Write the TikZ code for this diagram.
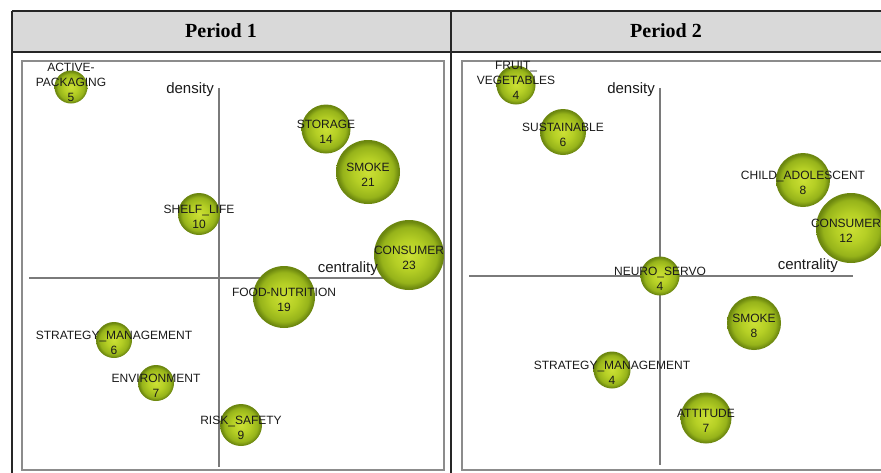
\documentclass[tikz,border=0pt]{standalone}
\usepackage{fontspec}
\setmainfont{Liberation Serif}
\newfontfamily\arialfont{Liberation Sans}
\definecolor{bubin}{HTML}{CCE035}
\definecolor{bubmid}{HTML}{B5CF25}
\definecolor{bubout}{HTML}{96B31A}
\definecolor{bubedge}{HTML}{6C870F}
\definecolor{axisgray}{HTML}{7A7A7A}
\definecolor{txtgray}{HTML}{1A1A1A}
\pgfdeclareradialshading{bubble}{\pgfpoint{0bp}{0bp}}{%
  color(0bp)=(bubin); color(11bp)=(bubmid); color(20bp)=(bubout);
  color(24bp)=(bubedge); color(25bp)=(bubedge); color(50bp)=(bubedge)}

\begin{document}
\begin{tikzpicture}[x=1pt,y=-1pt,
  frame/.style={draw=black!85,line width=1.8pt},
  panel/.style={draw=black!45,line width=1.6pt},
  axis/.style={draw=axisgray,line width=1.3pt},
  bubble/.style={circle,shading=bubble,inner sep=0pt,outer sep=0pt,minimum size=#1},
  topic/.style={anchor=south,yshift=-15pt,align=center,inner sep=0pt,text=txtgray,
    font=\arialfont\fontsize{12}{15}\selectfont},
  axlabel/.style={anchor=base east,inner sep=0pt,text=txtgray,
    font=\arialfont\fontsize{15}{15}\selectfont},
  header/.style={anchor=base,inner sep=0pt,font=\bfseries\fontsize{20}{20}\selectfont}]
  \useasboundingbox (0,0) rectangle (881,472);
  \clip (0,0) rectangle (881,472);

  % table
  \fill[gray!30] (12,11) rectangle (900,52);
  \draw[frame] (12,11) -- (900,11);
  \draw[frame] (12,52) -- (900,52);
  \draw[frame] (12,11) -- (12,480);
  \draw[frame] (451,11) -- (451,480);
  \node[header] (head1) at (221,37) {Period 1};
  \node[header] (head2) at (666,37) {Period 2};
  \draw[panel] (22,61) rectangle (444,470);
  \draw[panel] (462,61) rectangle (900,470);

  % period 1
  \draw[axis] (219,88) -- (219,467);
  \draw[axis] (29,278) -- (386,278);
  \node[bubble=33pt] (p1pack) at (71,87) {};
  \node[bubble=49pt] (p1store) at (326,129) {};
  \node[bubble=64pt] (p1smoke) at (368,172) {};
  \node[bubble=42pt] (p1shelf) at (199,214) {};
  \node[bubble=70pt] (p1cons) at (409,255) {};
  \node[bubble=62pt] (p1food) at (284,297) {};
  \node[bubble=36pt] (p1strat) at (114,340) {};
  \node[bubble=36pt] (p1env) at (156,383) {};
  \node[bubble=42pt] (p1risk) at (241,425) {};
  \node[topic] (p1packL) at (p1pack) {ACTIVE-\\PACKAGING\\5};
  \node[topic] (p1storeL) at (p1store) {STORAGE\\14};
  \node[topic] (p1smokeL) at (p1smoke) {SMOKE\\21};
  \node[topic] (p1shelfL) at (p1shelf) {SHELF\_LIFE\\10};
  \node[topic] (p1consL) at (p1cons) {CONSUMER\\23};
  \node[topic] (p1foodL) at (p1food) {FOOD-NUTRITION\\19};
  \node[topic] (p1stratL) at (p1strat) {STRATEGY\_MANAGEMENT\\6};
  \node[topic] (p1envL) at (p1env) {ENVIRONMENT\\7};
  \node[topic] (p1riskL) at (p1risk) {RISK\_SAFETY\\9};
  \node[axlabel] (p1dens) at (214,93) {density};
  \node[axlabel] (p1cent) at (378,272) {centrality};

  % period 2
  \draw[axis] (660,88) -- (660,465);
  \draw[axis] (469,276) -- (853,276);
  \node[bubble=39pt] (p2fruit) at (516,85) {};
  \node[bubble=46pt] (p2sust) at (563,132) {};
  \node[bubble=54pt] (p2child) at (803,180) {};
  \node[bubble=70pt] (p2cons) at (851,228) {};
  \node[bubble=39pt] (p2neuro) at (660,276) {};
  \node[bubble=54pt] (p2smoke) at (754,323) {};
  \node[bubble=37pt] (p2strat) at (612,370) {};
  \node[bubble=51pt] (p2att) at (706,418) {};
  \node[topic] (p2fruitL) at (p2fruit) {FRUIT\_\\VEGETABLES\\4};
  \node[topic] (p2sustL) at (p2sust) {SUSTAINABLE\\6};
  \node[topic] (p2childL) at (p2child) {CHILD\_ADOLESCENT\\8};
  \node[topic,xshift=-5pt] (p2consL) at (p2cons) {CONSUMER\\12};
  \node[topic] (p2neuroL) at (p2neuro) {NEURO\_SERVO\\4};
  \node[topic] (p2smokeL) at (p2smoke) {SMOKE\\8};
  \node[topic] (p2stratL) at (p2strat) {STRATEGY\_MANAGEMENT\\4};
  \node[topic] (p2attL) at (p2att) {ATTITUDE\\7};
  \node[axlabel] (p2dens) at (655,93) {density};
  \node[axlabel] (p2cent) at (838,269) {centrality};
\end{tikzpicture}
\end{document}
